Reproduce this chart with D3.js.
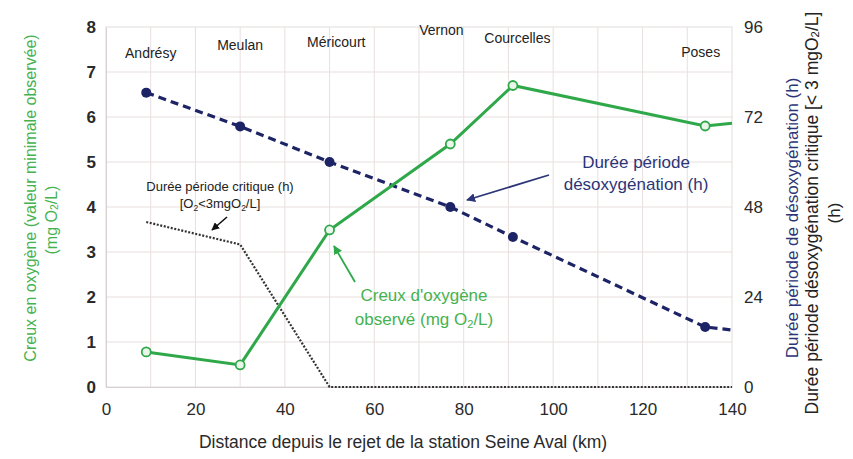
<!DOCTYPE html>
<html>
<head>
<meta charset="utf-8">
<script src="https://cdn.jsdelivr.net/npm/d3@7/dist/d3.min.js"></script>
<style>
  html, body { margin: 0; padding: 0; background: #fff; }
  svg { display: block; font-family: "Liberation Sans", Arial, sans-serif; }
</style>
</head>
<body>
<svg id="chart" width="853" height="459"></svg>
<script>
// Distance from the Seine Aval outfall (km) of each monitoring station
const stationKm = [9, 30, 50, 77, 91, 134];
const stationNames = ["Andrésy", "Meulan", "Méricourt", "Vernon", "Courcelles", "Poses"];
const stationLabelKm = [10, 30, 51.5, 75, 92, 133];

// Observed oxygen minimum (mg O2/L), left axis
const oxygenKm = [9, 30, 50, 77, 91, 134, 140];
const oxygenMin = [0.78, 0.49, 3.49, 5.4, 6.7, 5.8, 5.86];
const oxygenMarked = [true, true, true, true, true, true, false];

// Duration of the deoxygenation period (h), right axis
const deoxKm = [9, 30, 50, 77, 91, 134, 140];
const deoxHours = [78.5, 69.5, 60, 48, 40, 16, 15.2];
const deoxMarked = [true, true, true, true, true, true, false];

// Duration of the critical period, O2 < 3 mg/L (h), right axis
const criticalKm = [9, 30, 50, 140];
const criticalHours = [44, 38, 0, 0];

const xTicks = [0, 20, 40, 60, 80, 100, 120, 140];
const yLeftTicks = [0, 1, 2, 3, 4, 5, 6, 7, 8];
const yRightTicks = [0, 24, 48, 72, 96];

const svg = d3.select("#chart");
const W = 853, H = 459;
const m = { left: 106, right: 121, top: 27, bottom: 72 };
const pw = W - m.left - m.right, ph = H - m.top - m.bottom;

const x = d3.scaleLinear().domain([0, 140]).range([m.left, m.left + pw]);
const yL = d3.scaleLinear().domain([0, 8]).range([m.top + ph, m.top]);
const yR = d3.scaleLinear().domain([0, 96]).range([m.top + ph, m.top]);

const GREEN = "#2fa84a", GREEN_TEXT = "#45b24f", NAVY = "#1d2466", NAVY_TEXT = "#2c3577";
const GRID = "#e9dfdf", TICK_TEXT = "#2a2a2a";

// grid
const g = svg.append("g");
g.selectAll("line.v").data(d3.range(10, 140, 10)).join("line")
  .attr("x1", d => x(d)).attr("x2", d => x(d))
  .attr("y1", m.top).attr("y2", m.top + ph)
  .attr("stroke", GRID).attr("stroke-width", 1);
g.selectAll("line.h").data(d3.range(1, 8)).join("line")
  .attr("x1", m.left).attr("x2", m.left + pw)
  .attr("y1", d => yL(d)).attr("y2", d => yL(d))
  .attr("stroke", GRID).attr("stroke-width", 1);
g.append("rect").attr("x", m.left).attr("y", m.top).attr("width", pw).attr("height", ph)
  .attr("fill", "none").attr("stroke", "#e2dcdc").attr("stroke-width", 1);

// axes
const axX = d3.axisBottom(x).tickValues(xTicks).tickSize(0).tickPadding(16);
svg.append("g").attr("transform", `translate(0,${m.top + ph})`).call(axX)
  .call(a => a.select(".domain").attr("stroke", "#d8d0d0"))
  .selectAll("text").attr("font-size", 17).attr("fill", TICK_TEXT);

const axL = d3.axisLeft(yL).tickValues(yLeftTicks).tickSize(0).tickPadding(10);
svg.append("g").attr("transform", `translate(${m.left},0)`).call(axL)
  .call(a => a.select(".domain").attr("stroke", "#d8d0d0"))
  .selectAll("text").attr("font-size", 17).attr("font-weight", "bold").attr("fill", TICK_TEXT);

const axR = d3.axisRight(yR).tickValues(yRightTicks).tickSize(0).tickPadding(12);
svg.append("g").attr("transform", `translate(${m.left + pw},0)`).call(axR)
  .call(a => a.select(".domain").attr("stroke", "none"))
  .selectAll("text").attr("font-size", 17).attr("fill", TICK_TEXT);

// station labels
const labelY = [58, 50, 47, 35, 43, 57];
svg.selectAll("text.station").data(stationNames).join("text")
  .attr("x", (d, i) => x(stationLabelKm[i])).attr("y", (d, i) => labelY[i])
  .attr("text-anchor", "middle").attr("font-size", 14).attr("fill", "#222")
  .text(d => d);

// critical period (dotted black)
const critPts = criticalKm.map((k, i) => [k, criticalHours[i]]);
svg.append("path").datum(critPts)
  .attr("d", d3.line().x(d => x(d[0])).y(d => yR(d[1])))
  .attr("fill", "none").attr("stroke", "#333").attr("stroke-width", 2.2)
  .attr("stroke-dasharray", "2,1.6");

// deoxygenation duration (navy dashed)
const deoxPts = deoxKm.map((k, i) => [k, deoxHours[i], deoxMarked[i]]);
svg.append("path").datum(deoxPts)
  .attr("d", d3.line().x(d => x(d[0])).y(d => yR(d[1])))
  .attr("fill", "none").attr("stroke", NAVY).attr("stroke-width", 3.2)
  .attr("stroke-dasharray", "8,5");
svg.selectAll("circle.deox").data(deoxPts.filter(d => d[2])).join("circle")
  .attr("cx", d => x(d[0])).attr("cy", d => yR(d[1])).attr("r", 5)
  .attr("fill", NAVY);

// observed oxygen minimum (green)
const oxPts = oxygenKm.map((k, i) => [k, oxygenMin[i], oxygenMarked[i]]);
svg.append("path").datum(oxPts)
  .attr("d", d3.line().x(d => x(d[0])).y(d => yL(d[1])))
  .attr("fill", "none").attr("stroke", GREEN).attr("stroke-width", 3);
svg.selectAll("circle.ox").data(oxPts.filter(d => d[2])).join("circle")
  .attr("cx", d => x(d[0])).attr("cy", d => yL(d[1])).attr("r", 4.5)
  .attr("fill", "#e9f6ea").attr("stroke", GREEN).attr("stroke-width", 1.8);

// arrow markers
const defs = svg.append("defs");
function marker(id, color) {
  defs.append("marker").attr("id", id).attr("viewBox", "0 0 10 10")
    .attr("refX", 9).attr("refY", 5).attr("markerWidth", 5).attr("markerHeight", 5)
    .attr("orient", "auto")
    .append("path").attr("d", "M0,0 L10,5 L0,10 z").attr("fill", color);
}
marker("arK", "#111"); marker("arN", NAVY_TEXT); marker("arG", GREEN);

// annotations
function label(lines, cx, y0, dy, size, color, weight) {
  const t = svg.append("text").attr("text-anchor", "middle").attr("font-size", size)
    .attr("fill", color).attr("font-weight", weight || "normal");
  lines.forEach((l, i) => {
    const ts = t.append("tspan").attr("x", cx).attr("y", y0 + i * dy);
    l.forEach(p => {
      const s = ts.append("tspan").text(p.t);
      if (p.sub) s.attr("font-size", size * 0.65).attr("dy", 3);
      if (p.up) s.attr("dy", -3);
    });
  });
}
label([[{ t: "Durée période critique (h)" }],
       [{ t: "[O" }, { t: "2", sub: true }, { t: "<3mgO", up: true }, { t: "2", sub: true }, { t: "/L]", up: true }]],
      220, 191, 17, 13, "#222");
svg.append("line").attr("x1", 227).attr("y1", 217).attr("x2", 212).attr("y2", 230)
  .attr("stroke", "#111").attr("stroke-width", 1.6).attr("marker-end", "url(#arK)");

label([[{ t: "Durée période" }], [{ t: "désoxygénation (h)" }]], 636, 168, 22, 17, NAVY_TEXT);
svg.append("line").attr("x1", 549).attr("y1", 175).attr("x2", 467).attr("y2", 200)
  .attr("stroke", NAVY_TEXT).attr("stroke-width", 1.8).attr("marker-end", "url(#arN)");

label([[{ t: "Creux d'oxygène" }],
       [{ t: "observé (mg O" }, { t: "2", sub: true }, { t: "/L)", up: true }]],
      424, 301, 24, 17, GREEN_TEXT);
svg.append("line").attr("x1", 355).attr("y1", 282).attr("x2", 334).attr("y2", 246)
  .attr("stroke", GREEN).attr("stroke-width", 1.8).attr("marker-end", "url(#arG)");

// axis titles
svg.append("text").attr("x", 403).attr("y", 448).attr("text-anchor", "middle")
  .attr("font-size", 17.5).attr("fill", "#2a2a2a")
  .text("Distance depuis le rejet de la station Seine Aval (km)");

function vtitle(cx, cy, parts, size, color) {
  const t = svg.append("text").attr("transform", `translate(${cx},${cy}) rotate(-90)`)
    .attr("text-anchor", "middle").attr("dominant-baseline", "central")
    .attr("font-size", size).attr("fill", color);
  parts.forEach(p => {
    const s = t.append("tspan").text(p.t);
    if (p.sub) s.attr("font-size", size * 0.65).attr("dy", 3);
    if (p.up) s.attr("dy", -3);
  });
}
vtitle(30, 198, [{ t: "Creux en oxygène (valeur minimale observée)" }], 16, GREEN_TEXT);
vtitle(51, 220, [{ t: "(mg O" }, { t: "2", sub: true }, { t: "/L)", up: true }], 16, GREEN_TEXT);
vtitle(792, 218, [{ t: "Durée période de désoxygénation (h)" }], 17, NAVY_TEXT);
vtitle(812, 213, [{ t: "Durée période désoxygénation critique [< 3 mgO" }, { t: "2", sub: true }, { t: "/L]", up: true }], 17.5, "#222");
vtitle(834, 213, [{ t: "(h)" }], 17, "#222");
</script>
</body>
</html>
